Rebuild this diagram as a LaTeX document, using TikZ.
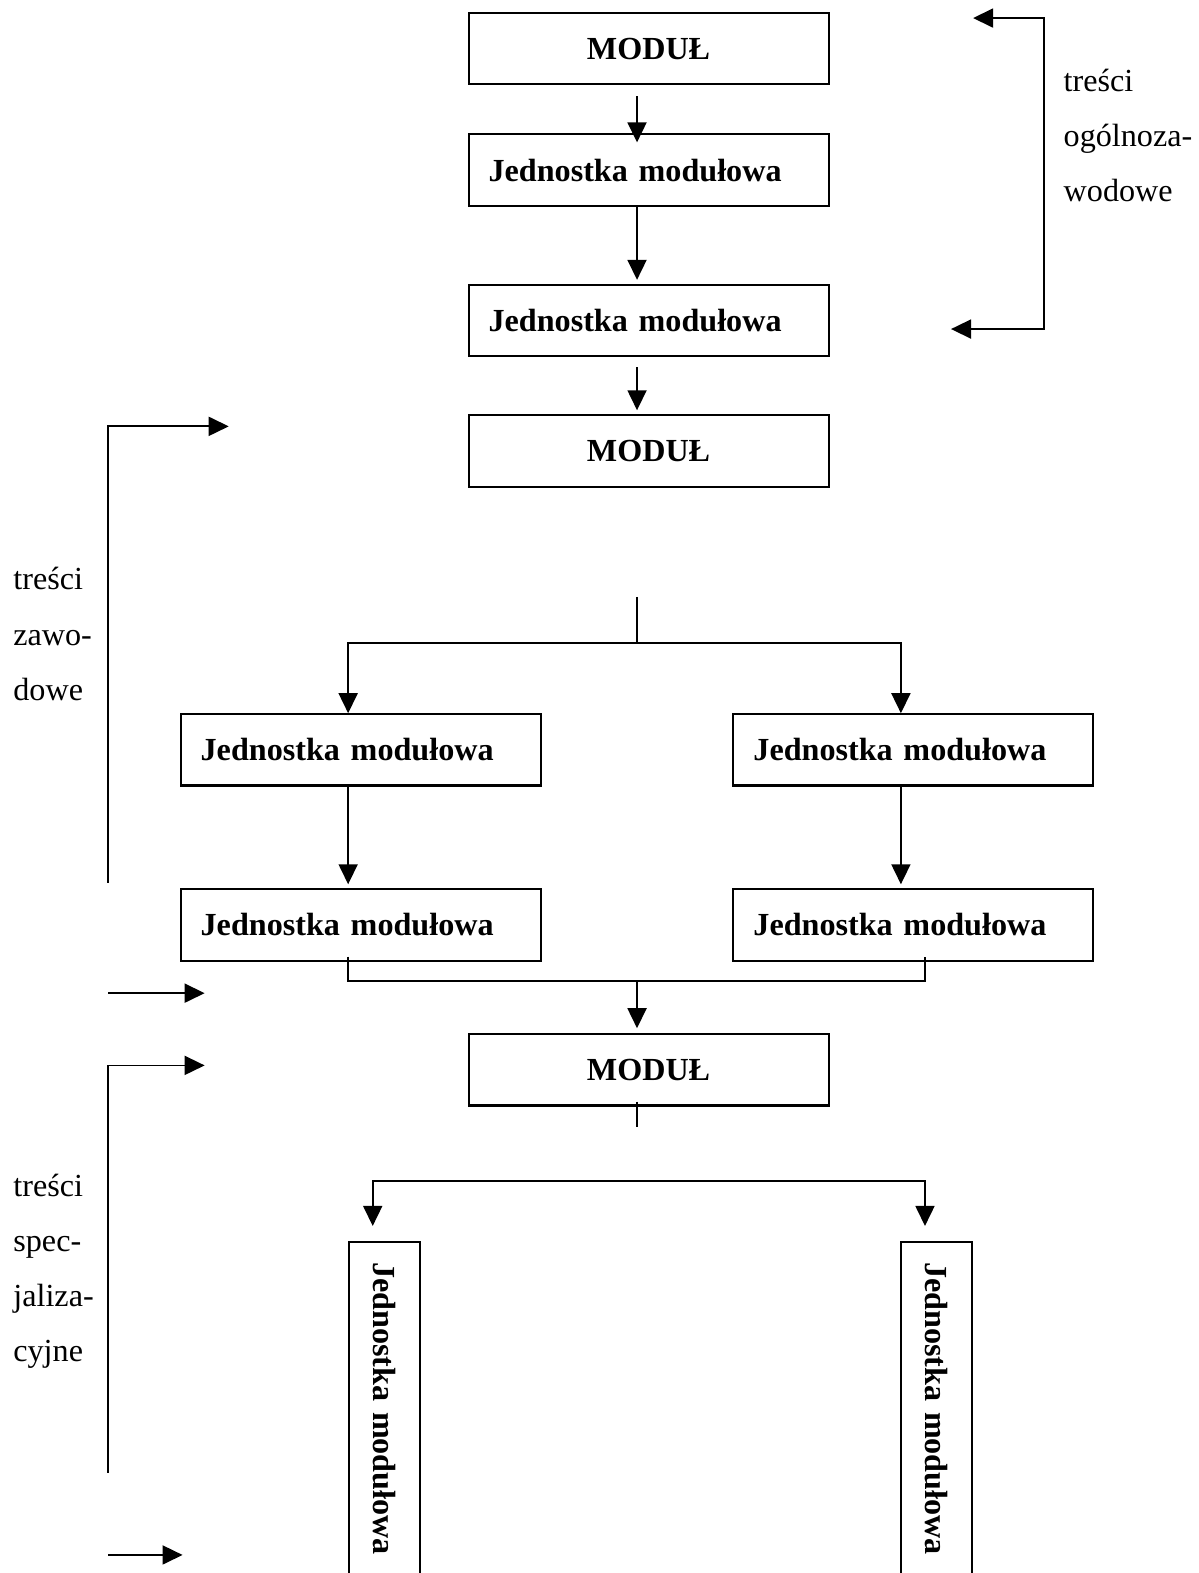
\documentclass[tikz,border=0pt]{standalone}
\usepackage{fontspec}
\setmainfont{Liberation Serif}
\usetikzlibrary{arrows.meta, positioning}

\begin{document}
\begin{tikzpicture}[
        x=0.020067cm, y=-0.020067cm,
        box/.style={draw, line width=1.2pt, minimum width=7.2cm, minimum height=1.425cm, inner sep=0pt, font=\fontsize{18.3}{22}\selectfont\bfseries},
        jm/.style={box, text width=6.4cm, align=left},
        jmv/.style={jm, rotate=-90, anchor=west},
        arr/.style={-{Triangle[length=0.4cm, width=0.38cm]}, line width=1pt},
        arrs/.style={{Triangle[length=0.4cm, width=0.38cm]}-{Triangle[length=0.4cm, width=0.38cm]}, line width=1pt},
        side/.style={anchor=base west, align=left, inner sep=0pt, font=\fontsize{18.3}{31.4}\selectfont}
      ]
      \useasboundingbox (0,0) rectangle (1195,1568);
      % upper chain
      \node[box] (m1) at (646.5,48.5)  {MODUŁ};
      \node[jm]  (j1) at (646.5,169.5) {Jednostka modułowa};
      \node[jm]  (j2) at (646.5,319.5) {Jednostka modułowa};
      \node[box] (m2) at (646.5,449.5) {MODUŁ};
      % two branches
      \node[jm] (jl1) at (359.5,747.5) {Jednostka modułowa};
      \node[jm] (jr1) at (910.5,747.5) {Jednostka modułowa};
      \node[jm] (jl2) at (359.5,922)   {Jednostka modułowa};
      \node[jm] (jr2) at (910.5,922)   {Jednostka modułowa};
      \node[box] (m3) at (646.5,1066.5) {MODUŁ};
      \node[jmv] (vl) at (383,1237)   {Jednostka modułowa};
      \node[jmv] (vr) at (933.5,1237) {Jednostka modułowa};
      % side labels (base = last line)
      \node[side] (lbo) at (1060,201)  {treści\\ogólnoza-\\wodowe};
      \node[side] (lbz) at (13,698)    {treści\\zawo-\\dowe};
      \node[side] (lbs) at (13,1357.5) {treści\\spec-\\jaliza-\\cyjne};

      \coordinate (ax) at (635,0);
      \draw[arr, shorten <=0.22cm, shorten >=-0.18cm] (m1.south -| ax) -- (j1.north -| ax);
      \draw[arr, shorten >=0.08cm] (j1.south -| ax) -- (j2.north -| ax);
      \draw[arr, shorten <=0.2cm, shorten >=0.08cm] (j2.south -| ax) -- (m2.north -| ax);

      \coordinate (sp1) at (635,595);
      \coordinate (sp2) at (635,641);
      \draw[line width=1pt] (sp1) -- (sp2);
      \draw[arr] (sp2) -| ([xshift=-0.25cm]jl1.north);
      \draw[arr] (sp2) -| ([xshift=-0.25cm]jr1.north);
      \draw[arr, shorten >=0.08cm] ([xshift=-0.25cm]jl1.south) -- ([xshift=-0.25cm]jl2.north);
      \draw[arr, shorten >=0.08cm] ([xshift=-0.25cm]jr1.south) -- ([xshift=-0.25cm]jr2.north);

      \coordinate (mg) at (635,978);
      \draw[line width=1pt] ([xshift=-0.25cm, yshift=0.1cm]jl2.south) |- (mg) -| ([xshift=0.23cm, yshift=0.1cm]jr2.south);
      \draw[arr, shorten >=0.1cm] (mg) -- (m3.north -| mg);

      \coordinate (st) at (m3.south -| ax);
      \draw[line width=1pt] ([yshift=0.1cm]st) -- ++(0,25);
      \coordinate (hb) at (635,1177);
      \draw[arrs] ([xshift=-0.23cm, yshift=0.3cm]vl.west) |- (hb) -| ([xshift=-0.23cm, yshift=0.3cm]vr.west);

      % brackets
      \coordinate (o1) at (948,328);
      \coordinate (o2) at (1041,18);
      \coordinate (o3) at (970,18);
      \draw[arrs] (o1) -| (o2) -- (o3);
      \coordinate (z1) at (108,880);
      \coordinate (z2) at (228,425);
      \draw[arr] (z1) |- (z2);
      \coordinate (z3) at (108,990);
      \coordinate (z4) at (204,990);
      \draw[arr] (z3) -- (z4);
      \coordinate (s1) at (108,1468);
      \coordinate (s2) at (204,1062);
      \draw[arr] (s1) |- (s2);
      \coordinate (s3) at (108,1550);
      \coordinate (s4) at (182,1550);
      \draw[arr] (s3) -- (s4);
    \end{tikzpicture}
\end{document}
